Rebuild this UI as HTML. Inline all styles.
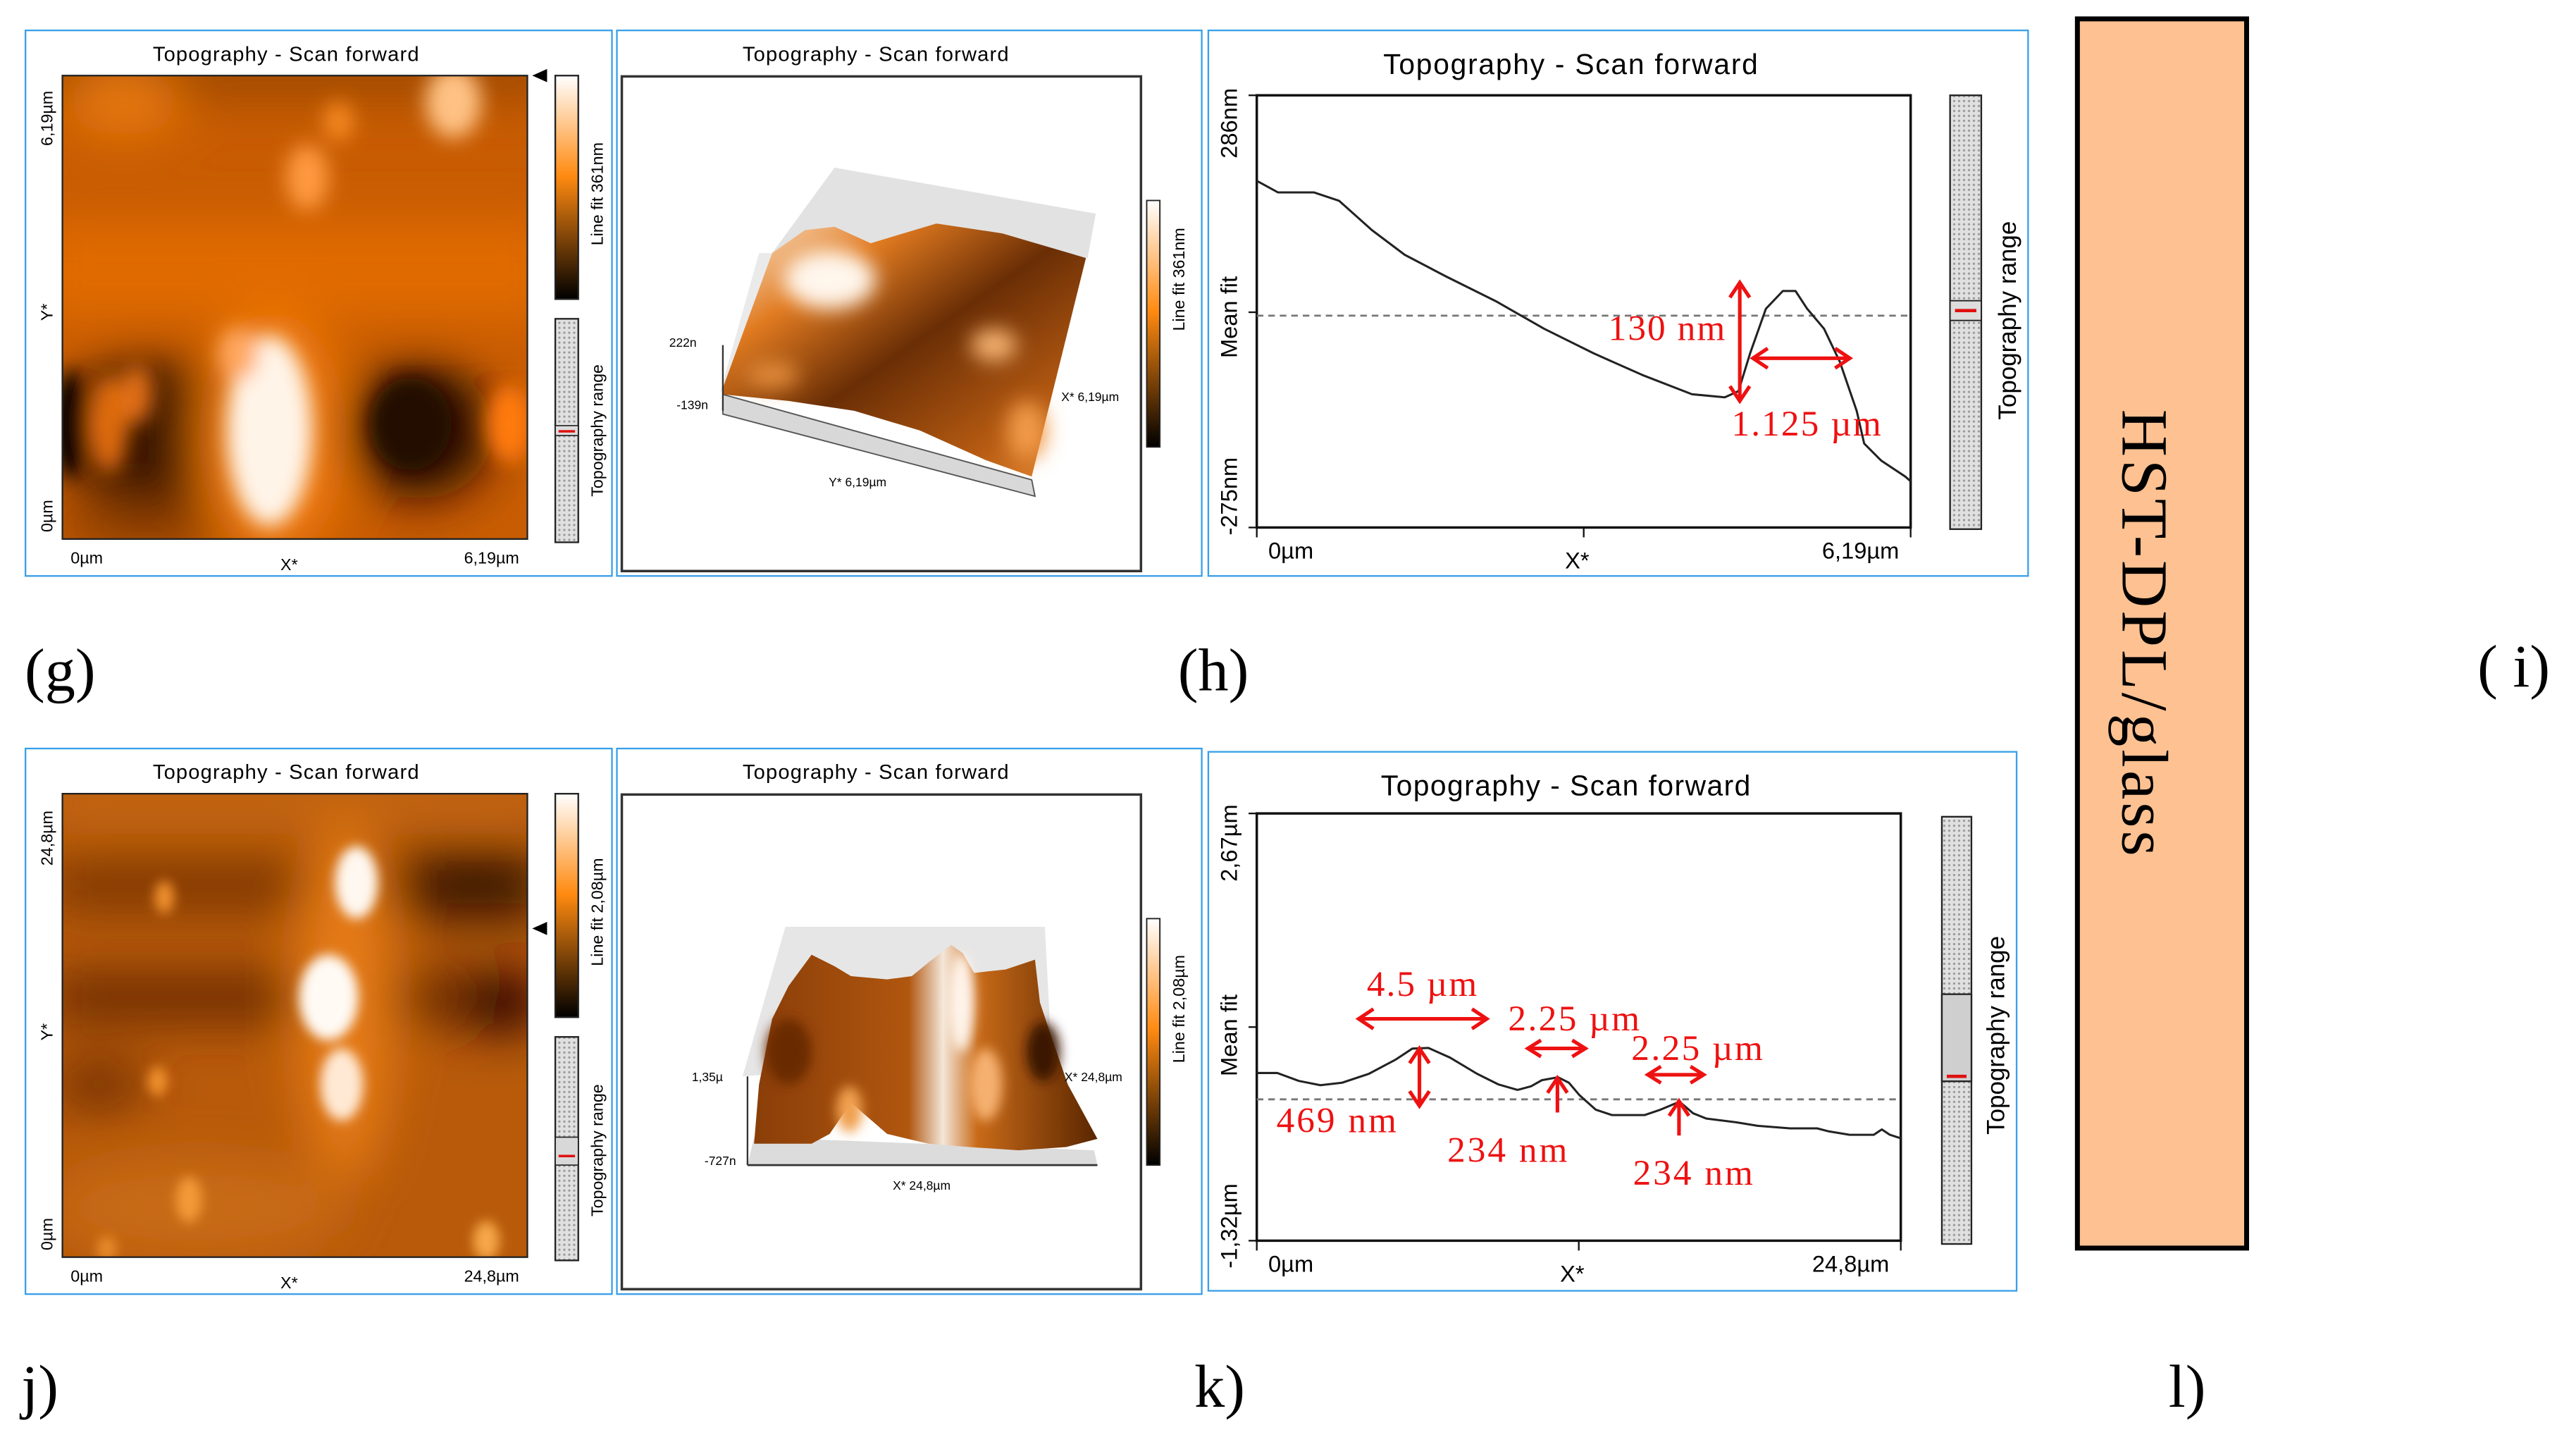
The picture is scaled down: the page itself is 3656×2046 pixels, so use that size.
<!DOCTYPE html>
<html><head><meta charset="utf-8"><style>
html,body{margin:0;padding:0;background:#fff;}
svg{display:block;}
.sans{font-family:"Liberation Sans",Arial,Helvetica,sans-serif;}
.serif{font-family:"Liberation Serif","Times New Roman",Times,"DejaVu Serif",serif;}
</style></head><body>
<svg id="fig" width="3656" height="2046" viewBox="0 0 1568 877.5" preserveAspectRatio="none" xmlns="http://www.w3.org/2000/svg">
<defs>
<filter id="b6" x="-50%" y="-50%" width="200%" height="200%"><feGaussianBlur stdDeviation="6"/></filter>
<filter id="b10" x="-50%" y="-50%" width="200%" height="200%"><feGaussianBlur stdDeviation="11"/></filter>
<filter id="b14" x="-50%" y="-50%" width="200%" height="200%"><feGaussianBlur stdDeviation="15"/></filter>
<filter id="b3" x="-50%" y="-50%" width="200%" height="200%"><feGaussianBlur stdDeviation="3.5"/></filter>
<linearGradient id="cbar" x1="0" y1="0" x2="0" y2="1"><stop offset="0" stop-color="#fff"/><stop offset="0.45" stop-color="#ff8a10"/><stop offset="1" stop-color="#000"/></linearGradient>
<pattern id="dots" width="3" height="3" patternUnits="userSpaceOnUse"><rect width="3" height="3" fill="#e0e0e0"/><circle cx="1.5" cy="1.5" r="0.7" fill="#9a9a9a"/></pattern>
<linearGradient id="surfH" x1="0" y1="0" x2="1" y2="1"><stop offset="0" stop-color="#fff2e0"/><stop offset="0.25" stop-color="#e07a20"/><stop offset="0.5" stop-color="#6a2e05"/><stop offset="0.8" stop-color="#b55a12"/><stop offset="1" stop-color="#e88a30"/></linearGradient>
<linearGradient id="surfK" x1="0" y1="0" x2="1" y2="0"><stop offset="0" stop-color="#8a3e08"/><stop offset="0.45" stop-color="#b0560f"/><stop offset="0.55" stop-color="#f4e6d8"/><stop offset="0.65" stop-color="#c86a18"/><stop offset="1" stop-color="#5a2600"/></linearGradient>
<clipPath id="clipG"><rect x="38" y="46" width="283" height="282"/></clipPath>
<clipPath id="clipJ"><rect x="38" y="483" width="283" height="282"/></clipPath>
</defs>

<!-- ================= PANEL G ================= -->
<g>
<rect x="15.5" y="18.5" width="357" height="332" fill="#fff" stroke="#3aa0e8" stroke-width="1"/>
<text class="sans" x="174" y="37" font-size="12.5" text-anchor="middle" textLength="162">Topography - Scan forward</text>
<g clip-path="url(#clipG)">
<rect x="38" y="46" width="283" height="282" fill="#c85c02"/>
<g filter="url(#b14)">
<rect x="20" y="30" width="320" height="28" fill="#9a4600"/>
<rect x="20" y="135" width="320" height="60" fill="#e06a04"/>
<ellipse cx="75" cy="62" rx="35" ry="20" fill="#ea7a10"/>
<ellipse cx="90" cy="262" rx="58" ry="45" fill="#3a1600"/>
<ellipse cx="255" cy="262" rx="45" ry="42" fill="#2c0e00"/>
<ellipse cx="90" cy="320" rx="60" ry="15" fill="#8a3c00"/>
<ellipse cx="166" cy="265" rx="45" ry="75" fill="#f07a10"/>
</g>
<g filter="url(#b6)">
<ellipse cx="44" cy="258" rx="10" ry="32" fill="#000"/>
<ellipse cx="250" cy="258" rx="25" ry="28" fill="#200800"/>
<ellipse cx="276" cy="62" rx="17" ry="22" fill="#ffc284"/>
<ellipse cx="187" cy="108" rx="13" ry="20" fill="#ff9a40"/>
<ellipse cx="206" cy="74" rx="9" ry="12" fill="#f68a20"/>
<ellipse cx="66" cy="258" rx="12" ry="30" fill="#dd6a10"/>
<ellipse cx="83" cy="240" rx="10" ry="18" fill="#e06e14"/>
<ellipse cx="310" cy="258" rx="14" ry="24" fill="#ff7a10"/>
<ellipse cx="164" cy="262" rx="26" ry="58" fill="#fff4e8"/>
<ellipse cx="145" cy="215" rx="12" ry="16" fill="#ffa860"/>
</g>
</g>
<rect x="38" y="46" width="283" height="282" fill="none" stroke="#222" stroke-width="1"/>
<polygon points="324,46 333,42 333,50" fill="#000"/>
<text class="sans" transform="translate(32,72) rotate(-90)" font-size="10" text-anchor="middle">6,19µm</text>
<text class="sans" transform="translate(32,190) rotate(-90)" font-size="10" text-anchor="middle">Y*</text>
<text class="sans" transform="translate(32,314) rotate(-90)" font-size="10" text-anchor="middle">0µm</text>
<text class="sans" x="43" y="343" font-size="10">0µm</text>
<text class="sans" x="176" y="347" font-size="10" text-anchor="middle">X*</text>
<text class="sans" x="316" y="343" font-size="10" text-anchor="end">6,19µm</text>
<rect x="338" y="46" width="14" height="136" fill="url(#cbar)" stroke="#222" stroke-width="1"/>
<text class="sans" transform="translate(367,118) rotate(-90)" font-size="10" text-anchor="middle">Line fit 361nm</text>
<rect x="338" y="194" width="14" height="136" fill="url(#dots)" stroke="#222" stroke-width="1"/>
<rect x="338" y="259" width="14" height="6" fill="#ddd" stroke="#222" stroke-width="0.7"/>
<line x1="340" y1="262.5" x2="350" y2="262.5" stroke="#e01010" stroke-width="1.5"/>
<text class="sans" transform="translate(367,262) rotate(-90)" font-size="10" text-anchor="middle">Topography range</text>
</g>

<!-- ================= PANEL H ================= -->
<g>
<rect x="375.5" y="18.5" width="356" height="332" fill="#fff" stroke="#3aa0e8" stroke-width="1"/>
<text class="sans" x="533" y="37" font-size="12.5" text-anchor="middle" textLength="162">Topography - Scan forward</text>
<rect x="378.5" y="46.5" width="316" height="301" fill="#fff" stroke="#333" stroke-width="1.5"/>
<polygon points="470,154 508,102 667,130 662,157" fill="#e2e2e2"/>
<polygon points="440,236 470,154 462,154 438,240" fill="#eaeaea"/>
<polygon points="440,236 470,154 490,140 508,138 530,148 570,136 610,142 661,157 628,290 600,280 560,262 520,250 480,244 440,240" fill="url(#surfH)"/>
<g filter="url(#b6)">
<ellipse cx="505" cy="170" rx="28" ry="18" fill="#fff6ec"/>
<ellipse cx="605" cy="210" rx="14" ry="10" fill="#f3b070"/>
<ellipse cx="625" cy="262" rx="12" ry="18" fill="#f19a48"/>
<ellipse cx="470" cy="228" rx="16" ry="8" fill="#e08a3a"/>
</g>
<polygon points="440,240 628,292 630,302 440,252" fill="#d8d8d8" stroke="#555" stroke-width="0.8"/>
<line x1="440" y1="210" x2="440" y2="250" stroke="#333" stroke-width="1"/>
<text class="sans" x="424" y="211" font-size="7.5" text-anchor="end">222n</text>
<text class="sans" x="431" y="249" font-size="7.5" text-anchor="end">-139n</text>
<text class="sans" x="646" y="244" font-size="7.5">X* 6,19µm</text>
<text class="sans" x="522" y="296" font-size="7.5" text-anchor="middle">Y* 6,19µm</text>
<rect x="698" y="122" width="8" height="150" fill="url(#cbar)" stroke="#222" stroke-width="0.8"/>
<text class="sans" transform="translate(721,170) rotate(-90)" font-size="10" text-anchor="middle">Line fit 361nm</text>
</g>

<!-- ================= PANEL I (profile) ================= -->
<g>
<rect x="735.5" y="18.5" width="499" height="332" fill="#fff" stroke="#3aa0e8" stroke-width="1"/>
<text class="sans" x="956" y="45" font-size="17.5" text-anchor="middle" textLength="228">Topography - Scan forward</text>
<rect x="765" y="58" width="398" height="263" fill="none" stroke="#111" stroke-width="1.5"/>
<line x1="760" y1="58" x2="765" y2="58" stroke="#111"/><line x1="760" y1="190" x2="765" y2="190" stroke="#111"/><line x1="760" y1="321" x2="765" y2="321" stroke="#111"/>
<line x1="765" y1="321" x2="765" y2="327" stroke="#111"/><line x1="964" y1="321" x2="964" y2="327" stroke="#111"/><line x1="1163" y1="321" x2="1163" y2="327" stroke="#111"/>
<text class="sans" transform="translate(753,75) rotate(-90)" font-size="14" text-anchor="middle">286nm</text>
<text class="sans" transform="translate(753,193) rotate(-90)" font-size="14" text-anchor="middle">Mean fit</text>
<text class="sans" transform="translate(753,302) rotate(-90)" font-size="14" text-anchor="middle">-275nm</text>
<text class="sans" x="772" y="340" font-size="14">0µm</text>
<text class="sans" x="960" y="346" font-size="14" text-anchor="middle">X*</text>
<text class="sans" x="1156" y="340" font-size="14" text-anchor="end">6,19µm</text>
<g id="lineI"></g>
<g stroke="#ee1111" stroke-width="2.2" fill="none">
<line x1="1059" y1="173" x2="1059" y2="243"/><polyline points="1053,181 1059,172 1065,181"/><polyline points="1053,235 1059,244 1065,235"/>
<line x1="1068" y1="218" x2="1125" y2="218"/><polyline points="1076,212 1067,218 1076,224"/><polyline points="1117,212 1126,218 1117,224"/>
</g>
<text class="serif" x="979" y="207" font-size="22" fill="#ee1111" textLength="71">130 nm</text>
<text class="serif" x="1054" y="265" font-size="22" fill="#ee1111" textLength="91">1.125 µm</text>
<rect x="1187" y="58" width="19" height="264" fill="url(#dots)" stroke="#222" stroke-width="1"/>
<rect x="1187" y="183" width="19" height="12" fill="#ddd" stroke="#222" stroke-width="0.8"/>
<line x1="1190" y1="189" x2="1203" y2="189" stroke="#e01010" stroke-width="2"/>
<text class="sans" transform="translate(1227,195) rotate(-90)" font-size="15" text-anchor="middle">Topography range</text>
</g>

<!-- ================= BIG LABEL BOX ================= -->
<rect x="1264.5" y="11.5" width="103" height="748" fill="#fdc192" stroke="#000" stroke-width="3"/>
<text class="serif" transform="translate(1292,385) rotate(90)" font-size="40" text-anchor="middle" textLength="272">HST-DPL/glass</text>

<!-- panel letters -->
<text class="serif" x="15" y="420" font-size="37">(g)</text>
<text class="serif" x="717" y="420" font-size="37">(h)</text>
<text class="serif" x="1508" y="418" font-size="37">( i)</text>
<text class="serif" x="13" y="856" font-size="37">j)</text>
<text class="serif" x="727" y="856" font-size="37">k)</text>
<text class="serif" x="1320" y="856" font-size="37">l)</text>

<!-- ================= PANEL J ================= -->
<g>
<rect x="15.5" y="455.5" width="357" height="332" fill="#fff" stroke="#3aa0e8" stroke-width="1"/>
<text class="sans" x="174" y="474" font-size="12.5" text-anchor="middle" textLength="162">Topography - Scan forward</text>
<g clip-path="url(#clipJ)">
<rect x="38" y="483" width="283" height="282" fill="#b85a0a"/>
<g filter="url(#b14)">
<rect x="30" y="478" width="300" height="20" fill="#c86a14"/>
<rect x="30" y="524" width="300" height="30" fill="#7a3404"/>
<rect x="250" y="518" width="80" height="42" fill="#3a1400"/>
<rect x="30" y="592" width="300" height="30" fill="#6a2a02"/>
<ellipse cx="305" cy="610" rx="25" ry="18" fill="#1a0600"/>
<ellipse cx="60" cy="660" rx="30" ry="14" fill="#6a2a02"/>
<ellipse cx="210" cy="610" rx="30" ry="110" fill="#e57a18"/>
<ellipse cx="120" cy="735" rx="90" ry="30" fill="#c86a14"/>
</g>
<g filter="url(#b3)">
<ellipse cx="217" cy="537" rx="13" ry="22" fill="#fff8f0"/>
<ellipse cx="200" cy="607" rx="18" ry="26" fill="#fffaf4"/>
<ellipse cx="208" cy="660" rx="13" ry="22" fill="#ffe9d4"/>
<ellipse cx="100" cy="546" rx="6" ry="10" fill="#f0902e"/>
<ellipse cx="96" cy="658" rx="6" ry="9" fill="#f0902e"/>
<ellipse cx="115" cy="730" rx="8" ry="14" fill="#f39a38"/>
<ellipse cx="296" cy="755" rx="8" ry="12" fill="#f7a848"/>
<ellipse cx="65" cy="760" rx="6" ry="8" fill="#e88a2c"/>
</g>
</g>
<rect x="38" y="483" width="283" height="282" fill="none" stroke="#222" stroke-width="1"/>
<polygon points="324,565 333,561 333,569" fill="#000"/>
<text class="sans" transform="translate(32,510) rotate(-90)" font-size="10" text-anchor="middle">24,8µm</text>
<text class="sans" transform="translate(32,628) rotate(-90)" font-size="10" text-anchor="middle">Y*</text>
<text class="sans" transform="translate(32,751) rotate(-90)" font-size="10" text-anchor="middle">0µm</text>
<text class="sans" x="43" y="780" font-size="10">0µm</text>
<text class="sans" x="176" y="784" font-size="10" text-anchor="middle">X*</text>
<text class="sans" x="316" y="780" font-size="10" text-anchor="end">24,8µm</text>
<rect x="338" y="483" width="14" height="136" fill="url(#cbar)" stroke="#222" stroke-width="1"/>
<text class="sans" transform="translate(367,555) rotate(-90)" font-size="10" text-anchor="middle">Line fit 2,08µm</text>
<rect x="338" y="631" width="14" height="136" fill="url(#dots)" stroke="#222" stroke-width="1"/>
<rect x="338" y="692" width="14" height="17" fill="#d8d8d8" stroke="#222" stroke-width="0.7"/>
<line x1="340" y1="703.5" x2="350" y2="703.5" stroke="#e01010" stroke-width="1.5"/>
<text class="sans" transform="translate(367,700) rotate(-90)" font-size="10" text-anchor="middle">Topography range</text>
</g>

<!-- ================= PANEL K ================= -->
<g>
<rect x="375.5" y="455.5" width="356" height="332" fill="#fff" stroke="#3aa0e8" stroke-width="1"/>
<text class="sans" x="533" y="474" font-size="12.5" text-anchor="middle" textLength="162">Topography - Scan forward</text>
<rect x="378.5" y="483.5" width="316" height="301" fill="#fff" stroke="#333" stroke-width="1.5"/>
<polygon points="478,564 636,564 640,640 452,655" fill="#e6e6e6"/>
<polygon points="459,692 666,700 668,709 455,709" fill="#dcdcdc"/>
<polygon points="459,696 462,660 470,620 480,600 494,581 508,588 518,594 540,596 555,594 566,585 579,575 586,580 593,592 612,590 630,584 633,610 640,631 650,660 668,693 649,698 620,700 590,698 565,696 540,690 518,671 505,690 494,696" fill="url(#surfK)"/>
<g filter="url(#b3)">
<ellipse cx="585" cy="610" rx="8" ry="30" fill="#fff4ea"/>
<ellipse cx="600" cy="660" rx="10" ry="22" fill="#f5b070"/>
<ellipse cx="517" cy="675" rx="8" ry="14" fill="#f0a050"/>
<ellipse cx="480" cy="640" rx="14" ry="20" fill="#6a2c04"/>
<ellipse cx="635" cy="640" rx="10" ry="18" fill="#3a1400"/>
</g>
<line x1="455" y1="655" x2="455" y2="709" stroke="#333" stroke-width="1"/>
<line x1="455" y1="709" x2="668" y2="709" stroke="#333" stroke-width="1.2"/>
<text class="sans" x="440" y="658" font-size="7.5" text-anchor="end">1,35µ</text>
<text class="sans" x="448" y="709" font-size="7.5" text-anchor="end">-727n</text>
<text class="sans" x="648" y="658" font-size="7.5">X* 24,8µm</text>
<text class="sans" x="561" y="724" font-size="7.5" text-anchor="middle">X* 24,8µm</text>
<rect x="698" y="559" width="8" height="150" fill="url(#cbar)" stroke="#222" stroke-width="0.8"/>
<text class="sans" transform="translate(721,614) rotate(-90)" font-size="10" text-anchor="middle">Line fit 2,08µm</text>
</g>

<!-- ================= PANEL L (profile) ================= -->
<g>
<rect x="735.5" y="457.5" width="492" height="328" fill="#fff" stroke="#3aa0e8" stroke-width="1"/>
<text class="sans" x="953" y="484" font-size="17.5" text-anchor="middle" textLength="225">Topography - Scan forward</text>
<rect x="765" y="495" width="392" height="260" fill="none" stroke="#111" stroke-width="1.5"/>
<line x1="760" y1="495" x2="765" y2="495" stroke="#111"/><line x1="760" y1="625" x2="765" y2="625" stroke="#111"/><line x1="760" y1="755" x2="765" y2="755" stroke="#111"/>
<line x1="765" y1="755" x2="765" y2="761" stroke="#111"/><line x1="961" y1="755" x2="961" y2="761" stroke="#111"/><line x1="1157" y1="755" x2="1157" y2="761" stroke="#111"/>
<text class="sans" transform="translate(753,513) rotate(-90)" font-size="14" text-anchor="middle">2,67µm</text>
<text class="sans" transform="translate(753,630) rotate(-90)" font-size="14" text-anchor="middle">Mean fit</text>
<text class="sans" transform="translate(753,746) rotate(-90)" font-size="14" text-anchor="middle">-1,32µm</text>
<text class="sans" x="772" y="774" font-size="14">0µm</text>
<text class="sans" x="957" y="780" font-size="14" text-anchor="middle">X*</text>
<text class="sans" x="1150" y="774" font-size="14" text-anchor="end">24,8µm</text>
<g id="lineL"></g>
<g stroke="#ee1111" stroke-width="2.2" fill="none">
<line x1="828" y1="620" x2="904" y2="620"/><polyline points="836,614 827,620 836,626"/><polyline points="896,614 905,620 896,626"/>
<line x1="864" y1="639" x2="864" y2="672"/><polyline points="858,647 864,638 870,647"/><polyline points="858,664 864,673 870,664"/>
<line x1="931" y1="638" x2="964" y2="638"/><polyline points="938,633 930,638 938,643"/><polyline points="957,633 965,638 957,643"/>
<line x1="948" y1="658" x2="948" y2="677"/><polyline points="942,665 948,656 954,665"/>
<line x1="1004" y1="654" x2="1036" y2="654"/><polyline points="1011,649 1003,654 1011,659"/><polyline points="1029,649 1037,654 1029,659"/>
<line x1="1022" y1="672" x2="1022" y2="691"/><polyline points="1016,679 1022,670 1028,679"/>
</g>
<g class="serif" font-size="22" fill="#ee1111">
<text x="832" y="606" textLength="67">4.5 µm</text>
<text x="777" y="689" textLength="73">469 nm</text>
<text x="918" y="627" textLength="80">2.25 µm</text>
<text x="881" y="707" textLength="73">234 nm</text>
<text x="993" y="645" textLength="80">2.25 µm</text>
<text x="994" y="721" textLength="73">234 nm</text>
</g>
<rect x="1182" y="497" width="18" height="260" fill="url(#dots)" stroke="#222" stroke-width="1"/>
<rect x="1182" y="605" width="18" height="53" fill="#cfcfcf" stroke="#222" stroke-width="1"/>
<line x1="1185" y1="655" x2="1197" y2="655" stroke="#e01010" stroke-width="2"/>
<text class="sans" transform="translate(1220,630) rotate(-90)" font-size="15" text-anchor="middle">Topography range</text>
</g>
</svg>

<script>
// ---- Profile (i): x in µm, height in nm ----
const profileIX = [0,0.20,0.54,0.78,1.09,1.40,1.79,2.26,2.72,3.19,3.65,4.12,4.43,4.56,4.67,4.82,4.98,5.10,5.21,5.37,5.52,5.68,5.75,5.91,6.14,6.19];
const profileIY = [175,160,160,149,111,79,51,19,-17,-49,-77,-102,-106,-98,-49,9,32,32,9,-17,-60,-124,-166,-188,-209,-215];
const axisIX = [0, 6.19];
const axisIY = [-275, 286];
const meanI = [0];

// ---- Profile (l): x in µm, height in µm ----
const profileLX = [0,0.79,1.62,2.45,3.28,4.32,5.36,5.99,6.61,7.44,8.48,9.31,10.04,10.56,10.98,11.60,12.02,12.43,13.05,13.68,14.93,15.55,16.28,16.80,17.32,18.46,19.29,20.54,21.58,21.99,22.83,23.76,24.07,24.38,24.80];
const profileLY = [0.246,0.246,0.172,0.132,0.155,0.239,0.373,0.474,0.480,0.390,0.239,0.139,0.088,0.122,0.179,0.206,0.155,0.038,-0.096,-0.147,-0.147,-0.096,-0.022,-0.130,-0.180,-0.214,-0.247,-0.271,-0.271,-0.297,-0.331,-0.331,-0.281,-0.331,-0.364];
const axisLX = [0, 24.8];
const axisLY = [-1.32, 2.67];
const meanL = [0];

const NS = "http://www.w3.org/2000/svg";
function scale(d0, d1, r0, r1){ return v => r0 + (v - d0) / (d1 - d0) * (r1 - r0); }

function drawProfile(gid, xs, ys, ax, ay, mean, box, nm){
  const g = document.getElementById(gid);
  const sx = scale(ax[0], ax[1], box.x0, box.x1);
  const sy = scale(ay[0], ay[1], box.y1, box.y0);
  const dl = document.createElementNS(NS, "line");
  dl.setAttribute("x1", box.x0); dl.setAttribute("x2", box.x1);
  dl.setAttribute("y1", sy(mean[0])); dl.setAttribute("y2", sy(mean[0]));
  dl.setAttribute("stroke", "#777"); dl.setAttribute("stroke-width", "1.2"); dl.setAttribute("stroke-dasharray", "4,3");
  
  
  g.appendChild(dl);
  const p = document.createElementNS(NS, "polyline");
  p.setAttribute("points", xs.map((x, i) => sx(x).toFixed(2) + "," + sy(ys[i]).toFixed(2)).join(" "));
  p.setAttribute("fill", "none"); p.setAttribute("stroke", "#222"); p.setAttribute("stroke-width", "1.3");
  p.setAttribute("stroke-linejoin", "round");
  
  
  g.appendChild(p);
}
drawProfile("lineI", profileIX, profileIY, axisIX, axisIY, meanI, {x0:765, x1:1163, y0:58, y1:321}, "chart-i");
drawProfile("lineL", profileLX, profileLY, axisLX, axisLY, meanL, {x0:765, x1:1157, y0:495, y1:755}, "chart-l");
</script>
</body></html>
